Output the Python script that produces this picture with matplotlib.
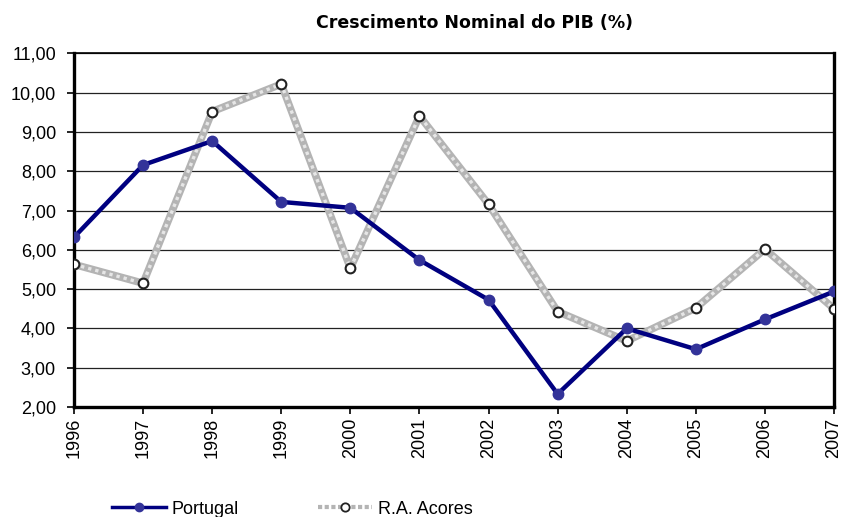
import matplotlib
matplotlib.use('Agg')
import matplotlib.pyplot as plt
from matplotlib.ticker import FuncFormatter, MultipleLocator
from matplotlib.lines import Line2D

# Dados
anos = ['1996', '1997', '1998', '1999', '2000', '2001',
        '2002', '2003', '2004', '2005', '2006', '2007']
portugal = [6.32, 8.16, 8.77, 7.22, 7.07, 5.74, 4.73, 2.33, 4.00, 3.47, 4.23, 4.94]
acores = [5.63, 5.15, 9.52, 10.22, 5.53, 9.41, 7.16, 4.43, 3.68, 4.52, 6.02, 4.50]

plt.rcParams['font.family'] = ['Liberation Sans', 'DejaVu Sans']

fig = plt.figure(figsize=(8.44, 5.17), dpi=100)
ax = fig.add_axes([74 / 844, 1 - 407 / 517, (834 - 74) / 844, (407 - 53.4) / 517])

x = list(range(len(anos)))

# linhas de grelha
for v in range(2, 12):
    ax.axhline(v, color='#222222', lw=0.9, zorder=1)

# R.A. Acores - linha cinzenta com textura
ax.plot(x, acores, color='#b4b4b4', lw=5.4, zorder=2, solid_capstyle='butt')
ax.plot(x, acores, color='#e6e6e6', lw=2.4, ls=(0, (1, 1.2)), zorder=3)
ax.plot(x, acores, ls='none', marker='o', ms=7, mfc='white', mec='#222222',
        mew=1.5, zorder=6)

# Portugal
ax.plot(x, portugal, color='#000080', lw=3.2, zorder=4)
ax.plot(x, portugal, ls='none', marker='o', ms=7.5, mfc='#333399', mec='#333399',
        zorder=5)

ax.set_xlim(0, len(anos) - 1)
ax.set_ylim(2, 11)
ax.yaxis.set_major_locator(MultipleLocator(1))
ax.yaxis.set_major_formatter(FuncFormatter(lambda v, p: f"{v:.2f}".replace('.', ',')))
ax.set_xticks(x)
ax.set_xticklabels(anos, rotation=90, fontsize=13)
ax.tick_params(axis='y', labelsize=13, length=5, width=1.2, pad=8, color='black')
ax.tick_params(axis='x', length=5, width=1.2, pad=3, color='black')

for lado in ['left', 'right', 'bottom']:
    ax.spines[lado].set_linewidth(2.4)
    ax.spines[lado].set_color('black')
ax.spines['top'].set_linewidth(1.2)
ax.spines['top'].set_color('black')

fig.text(475 / 844, 1 - 23 / 517, 'Crescimento Nominal do PIB (%)',
         ha='center', va='center', fontsize=12.5, fontweight='bold',
         family='DejaVu Sans')

# legenda
h1 = Line2D([], [], color='#000080', lw=2.5, marker='o', ms=6,
            mfc='#333399', mec='#333399')
h2 = Line2D([], [], color='#b4b4b4', lw=3, ls=(0, (1, 0.6)), marker='o', ms=6,
            mfc='white', mec='#222222', mew=1.3)
fig.legend([h1, h2], ['Portugal', 'R.A. Acores'], loc='center',
           bbox_to_anchor=(292 / 844, 1 - 509 / 517), ncol=2, frameon=False,
           fontsize=13, handlelength=3.0, handletextpad=0.3, columnspacing=4.4)

fig.savefig('out.png', dpi=100)
